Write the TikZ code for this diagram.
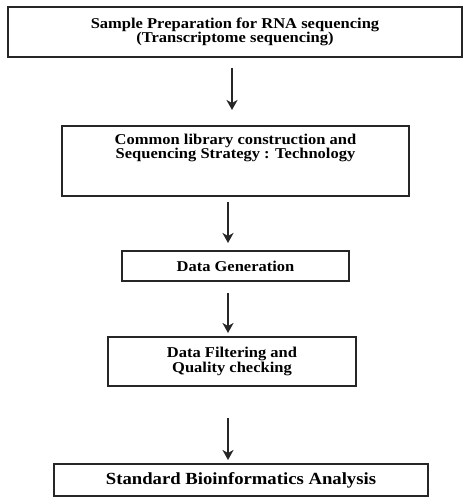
\documentclass[tikz,border=0pt]{standalone}
\usepackage{fontspec}
\setmainfont[FakeStretch=1.1]{Liberation Serif}
\usetikzlibrary{arrows.meta}
\pgfdeclarelayer{edgelayer}
\pgfdeclarelayer{nodelayer}
\pgfsetlayers{edgelayer,nodelayer,main}
\tikzstyle{none}=[inner sep=0pt, align=center, font=\fontsize{15}{12.5}\selectfont\bfseries]
\tikzstyle{process_box}=[draw=black!85, line width=2.2pt, fill=white, inner sep=0pt, align=center, font=\fontsize{15}{12.5}\selectfont\bfseries]
\tikzstyle{flow}=[-{Stealth[length=10pt,width=11pt,inset=3pt]}, line width=1.8pt, draw=black!85]

\begin{document}
\begin{tikzpicture}[x=1pt,y=1pt]
	\useasboundingbox (0,0) rectangle (474,-502);
	\begin{pgfonlayer}{nodelayer}
		\node [style={process_box}, minimum width=454, minimum height=50] (0) at (235, -32) {Sample Preparation for RNA sequencing\\(Transcriptome sequencing)};
		\node [style={process_box}, minimum width=347, minimum height=70] (1) at (235.5, -161) {};
		\node [style=none] (5) at (235.5, -148) {Common library construction and\\Sequencing Strategy : Technology};
		\node [style={process_box}, minimum width=227, minimum height=30] (2) at (235.5, -266) {Data Generation};
		\node [style={process_box}, minimum width=248, minimum height=49] (3) at (232, -361.5) {Data Filtering and\\Quality checking};
		\node [style={process_box}, minimum width=374, minimum height=32, font=\fontsize{17}{14}\selectfont\bfseries] (4) at (241, -480) {Standard Bioinformatics Analysis};
	\end{pgfonlayer}
	\begin{pgfonlayer}{edgelayer}
		\coordinate (6) at (232, -68);
		\coordinate (7) at (232, -110);
		\coordinate (8) at (228, -202);
		\coordinate (9) at (228, -243);
		\coordinate (10) at (228, -293);
		\coordinate (11) at (228, -333);
		\coordinate (12) at (228, -418);
		\coordinate (13) at (228, -460);
		\draw [style=flow] (6) to (7);
		\draw [style=flow] (8) to (9);
		\draw [style=flow] (10) to (11);
		\draw [style=flow] (12) to (13);
	\end{pgfonlayer}
\end{tikzpicture}
\end{document}
